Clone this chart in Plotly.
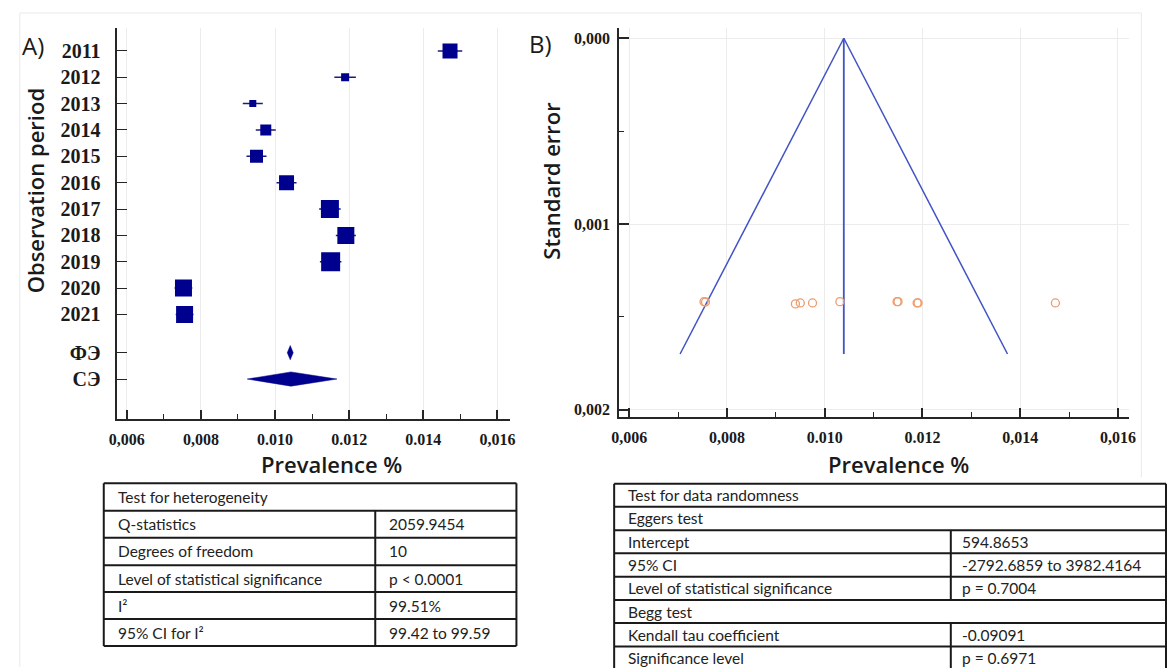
import plotly.graph_objects as go

W, H = 1175, 668

# ---------------- data ----------------
years = ["2011", "2012", "2013", "2014", "2015", "2016", "2017", "2018", "2019", "2020", "2021"]
summary_labels = ["ФЭ", "СЭ"]
prevalence = [0.01472, 0.01189, 0.00940, 0.00975, 0.00950, 0.01031, 0.01148, 0.01191, 0.01150, 0.00753, 0.00756]
ci_half = [0.00033, 0.00029, 0.00027, 0.00027, 0.00027, 0.00027, 0.00029, 0.00027, 0.00029, 0.00024, 0.00024]
weights_px = [15, 8, 7, 11, 13, 15, 18, 17, 19, 17, 17]
fe_est, fe_low, fe_high = 0.01041, 0.01033, 0.01049
re_est, re_low, re_high = 0.01043, 0.00925, 0.01167

std_err = [0.001425, 0.001425, 0.00143, 0.001425, 0.001425, 0.001418, 0.001418, 0.001425, 0.001418, 0.001418, 0.00142]
funnel_center = 0.01039
funnel_se = [0.0, 0.0017]
funnel_left = [0.01039, 0.00704]
funnel_right = [0.01039, 0.01374]

x_ticks = [0.006, 0.008, 0.010, 0.012, 0.014, 0.016]
x_minor = [0.007, 0.009, 0.011, 0.013, 0.015]
x_ticktext_a = ["0,006", "0,008", "0.010", "0.012", "0.014", "0,016"]
x_ticktext_b = ["0,006", "0,008", "0.010", "0.012", "0,014", "0,016"]
se_ticks = [0.0, 0.001, 0.002]
se_minor = [0.0005, 0.0015]
se_ticktext = ["0,000", "0,001", "0,002"]

het_title = "Test for heterogeneity"
het_labels = ["Q-statistics", "Degrees of freedom", "Level of statistical significance", "I²", "95% CI for I²"]
het_values = ["2059.9454", "10", "p < 0.0001", "99.51%", "99.42 to 99.59"]

rand_rows = [
    ("Test for data randomness", None),
    ("Eggers test", None),
    ("Intercept", "594.8653"),
    ("95% CI", "-2792.6859 to 3982.4164"),
    ("Level of statistical significance", "p = 0.7004"),
    ("Begg test", None),
    ("Kendall tau coefficient", "-0.09091"),
    ("Significance level", "p = 0.6971"),
]

# ---------------- helpers ----------------
def fx(x):
    return x / W

def fy(y):
    return 1 - y / H

NAVY = "#00008f"
AXIS = "#262626"
GRID = "#ececec"
FUNNEL = "#4052c4"
ORANGE = "#ee9c6c"
TICKFONT = dict(family="Liberation Serif", size=16, color="#1a1a1a", weight="bold")
TABLEFONT = dict(family="Lato", size=15.5, color="#222222")

def titlefont(sz):
    return dict(family="Open Sans", size=sz, color="#1a1a1a", weight=600)

year_rows = list(range(len(years)))
summary_rows = [len(years) + 0.45, len(years) + 1.45]

fig = go.Figure()

# ---------- Panel A: forest plot ----------
fig.add_trace(go.Scatter(
    x=prevalence, y=year_rows, mode="markers",
    marker=dict(size=1, color="rgba(0,0,0,0)"),
    error_x=dict(type="data", array=ci_half, color="#1c1c7a", thickness=1.5, width=0),
    xaxis="x", yaxis="y", showlegend=False, hoverinfo="skip"))
fig.add_trace(go.Scatter(
    x=prevalence, y=year_rows, mode="markers",
    marker=dict(symbol="square", size=weights_px, color=NAVY, opacity=1, line=dict(width=0)),
    xaxis="x", yaxis="y", showlegend=False, hoverinfo="x+y"))

r = summary_rows[0]
fig.add_trace(go.Scatter(
    x=[fe_low, fe_est, fe_high, fe_est, fe_low], y=[r, r - 0.27, r, r + 0.27, r],
    mode="lines", fill="toself", fillcolor=NAVY, line=dict(color=NAVY, width=0.5),
    xaxis="x", yaxis="y", showlegend=False))
r = summary_rows[1]
fig.add_trace(go.Scatter(
    x=[re_low, re_est, re_high, re_est, re_low], y=[r, r - 0.27, r, r + 0.27, r],
    mode="lines", fill="toself", fillcolor=NAVY, line=dict(color=NAVY, width=0.5),
    xaxis="x", yaxis="y", showlegend=False))

# ---------- Panel B: funnel plot ----------
fig.add_trace(go.Scatter(x=funnel_left, y=funnel_se, mode="lines",
                         line=dict(color=FUNNEL, width=1.5), xaxis="x2", yaxis="y2", showlegend=False))
fig.add_trace(go.Scatter(x=funnel_right, y=funnel_se, mode="lines",
                         line=dict(color=FUNNEL, width=1.5), xaxis="x2", yaxis="y2", showlegend=False))
fig.add_trace(go.Scatter(x=[funnel_center, funnel_center], y=funnel_se, mode="lines",
                         line=dict(color=FUNNEL, width=1.8), xaxis="x2", yaxis="y2", showlegend=False))
fig.add_trace(go.Scatter(x=prevalence, y=std_err, mode="markers",
                         marker=dict(symbol="circle-open", size=8, color=ORANGE, line=dict(width=1.3)),
                         xaxis="x2", yaxis="y2", showlegend=False))

common_x = dict(
    tickvals=x_ticks, ticks="inside", ticklen=9, tickwidth=1.5, tickcolor=AXIS,
    showline=True, linecolor=AXIS, linewidth=2, showgrid=True, gridcolor=GRID, gridwidth=1,
    zeroline=False, tickfont=TICKFONT, ticklabelstandoff=4,
    minor=dict(tickvals=x_minor, ticks="inside", ticklen=5, tickwidth=1.2, tickcolor=AXIS, showgrid=False),
)

fig.update_layout(
    width=W, height=H, margin=dict(l=0, r=0, t=0, b=0),
    paper_bgcolor="white", plot_bgcolor="white", showlegend=False,
    xaxis=dict(domain=[fx(110), fx(508)], range=[0.005726, 0.016325], ticktext=x_ticktext_a,
               anchor="y", **common_x),
    yaxis=dict(domain=[fy(420), fy(28)], range=[13.98, -0.87], anchor="x",
               tickvals=year_rows + summary_rows, ticktext=years + summary_labels,
               ticks="inside", ticklen=10, tickwidth=1.2, tickcolor=AXIS,
               showline=True, linecolor=AXIS, linewidth=2, showgrid=False, zeroline=False,
               tickfont=dict(family="Liberation Serif", size=20, color="#1a1a1a", weight="bold"),
               ticklabelstandoff=10),
    xaxis2=dict(domain=[fx(619), fx(1135)], range=[0.005792, 0.016216], ticktext=x_ticktext_b,
                anchor="y2", **common_x),
    yaxis2=dict(domain=[fy(418), fy(28)], range=[0.002041, -0.0000554], anchor="x2",
                tickvals=se_ticks, ticktext=se_ticktext,
                ticks="inside", ticklen=10, tickwidth=1.5, tickcolor=AXIS,
                showline=True, linecolor=AXIS, linewidth=2, showgrid=True, gridcolor=GRID,
                zeroline=False, tickfont=TICKFONT, ticklabelstandoff=4,
                minor=dict(tickvals=se_minor, ticks="inside", ticklen=5, tickwidth=1.2,
                           tickcolor=AXIS, showgrid=False)),
)

ann = []
shapes = []

# faint outer frames
for (x0, y0, x1, y1) in [(12, 13, 12, 668), (12, 13, 1148, 13), (1148, 13, 1148, 478)]:
    shapes.append(dict(type="line", xref="paper", yref="paper", x0=fx(x0), y0=fy(y0), x1=fx(x1), y1=fy(y1),
                       line=dict(color="#e9e9e9", width=1)))

# titles and panel labels
ann.append(dict(text="A)", x=fx(12), y=fy(46), xanchor="left", yanchor="middle",
                font=dict(family="Open Sans", size=24, color="#1a1a1a")))
ann.append(dict(text="B)", x=fx(526), y=fy(44), xanchor="left", yanchor="middle",
                font=dict(family="Open Sans", size=24, color="#1a1a1a")))
ann.append(dict(text="Observation period", x=fx(27), y=fy(191), textangle=-90,
                xanchor="center", yanchor="middle", font=titlefont(22)))
ann.append(dict(text="Standard error", x=fx(550), y=fy(181), textangle=-90,
                xanchor="center", yanchor="middle", font=titlefont(22)))
ann.append(dict(text="Prevalence %", x=fx(328), y=fy(465), xanchor="center", yanchor="middle", font=titlefont(22)))
ann.append(dict(text="Prevalence %", x=fx(902), y=fy(465), xanchor="center", yanchor="middle", font=titlefont(22)))

def hline(x0, x1, y, w=2):
    shapes.append(dict(type="line", xref="paper", yref="paper", x0=fx(x0), x1=fx(x1), y0=fy(y), y1=fy(y),
                       line=dict(color="#1a1a1a", width=w)))

def vline(x, y0, y1, w=2):
    shapes.append(dict(type="line", xref="paper", yref="paper", x0=fx(x), x1=fx(x), y0=fy(y0), y1=fy(y1),
                       line=dict(color="#1a1a1a", width=w)))

def cell_text(text, x, y):
    ann.append(dict(text=text, x=fx(x), y=fy(y), xanchor="left", yanchor="middle", font=TABLEFONT))

# Table A
ta_left, ta_right, ta_div = 97, 515, 372
ta_rows = [484, 511.5, 538.5, 566, 593, 620, 647]
for yv in ta_rows:
    hline(ta_left, ta_right, yv)
vline(ta_left, ta_rows[0], ta_rows[-1])
vline(ta_right, ta_rows[0], ta_rows[-1])
vline(ta_div, ta_rows[1], ta_rows[-1])
cell_text(het_title, 109, (ta_rows[0] + ta_rows[1]) / 2)
for i, (lab, val) in enumerate(zip(het_labels, het_values)):
    yc = (ta_rows[i + 1] + ta_rows[i + 2]) / 2
    cell_text(lab, 109, yc)
    cell_text(val, 384, yc)

# Table B
tb_left, tb_right, tb_div = 614, 1173, 955
tb_rows = [484.5, 507.5, 531, 554, 577.5, 601, 624, 647.5, 670]
for yv in tb_rows:
    hline(tb_left, tb_right, yv)
vline(tb_left, tb_rows[0], tb_rows[-1])
vline(tb_right, tb_rows[0], tb_rows[-1])
for i, (lab, val) in enumerate(rand_rows):
    yc = (tb_rows[i] + tb_rows[i + 1]) / 2
    cell_text(lab, 626, yc)
    if val is not None:
        cell_text(val, 964, yc)
        vline(tb_div, tb_rows[i], tb_rows[i + 1])

for a in ann:
    a.setdefault("xref", "paper")
    a.setdefault("yref", "paper")
    a.setdefault("showarrow", False)

fig.update_layout(annotations=ann, shapes=shapes)
fig.write_html("out.html", config={"displayModeBar": False},
               post_script="document.body.style.margin='0';document.body.style.overflow='hidden';")
